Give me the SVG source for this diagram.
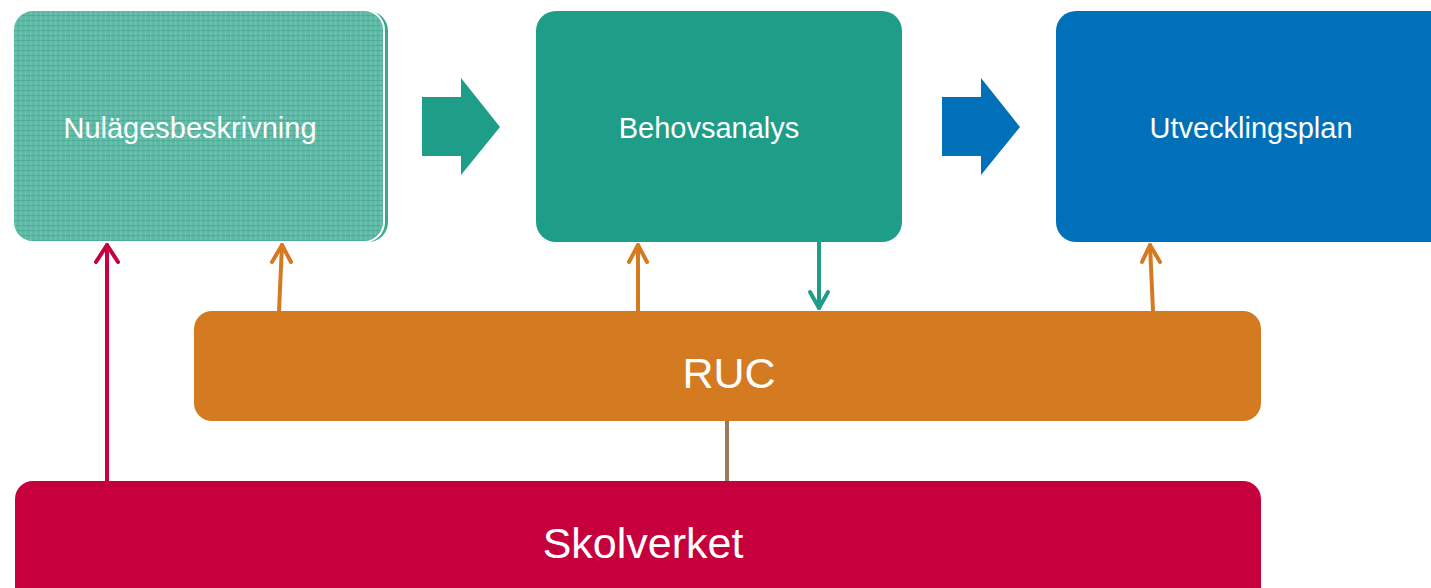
<svg xmlns="http://www.w3.org/2000/svg" width="1431" height="588" viewBox="0 0 1431 588">
<style>
.lbl{font-family:"Liberation Sans",Arial,sans-serif;fill:#ffffff;text-anchor:middle}
.s{font-size:29px}
.b{font-size:43px}
.ln{fill:none;stroke-width:4;stroke-linecap:round;stroke-linejoin:round}
</style>
<defs>
<pattern id="tex" width="5" height="5" patternUnits="userSpaceOnUse">
<rect width="5" height="5" fill="#5db9a5"/>
<rect x="0" y="0" width="1.5" height="5" fill="#7cc9b8" opacity="0.6"/>
<rect x="0" y="0" width="5" height="1.2" fill="#45a892" opacity="0.7"/>
</pattern>
</defs>
<rect width="1431" height="588" fill="#ffffff"/>
<g id="nulage">
<rect x="17" y="11" width="371" height="231" rx="20" fill="#3aa88f"/>
<rect x="13" y="10" width="371" height="232" rx="20" fill="url(#tex)" stroke="#ffffff" stroke-width="2"/>
<text class="lbl s" x="190" y="138">Nulägesbeskrivning</text>
</g>
<g id="arrow1">
<polygon points="422,97 461,97 461,78 500,127 461,175 461,156 422,156" fill="#1e9e88"/>
</g>
<g id="behov">
<rect x="536" y="11" width="366" height="231" rx="20" fill="#1e9e88"/>
<text class="lbl s" x="709" y="138">Behovsanalys</text>
</g>
<g id="arrow2">
<polygon points="942,97 981,97 981,78 1020,127 981,175 981,156 942,156" fill="#0070b8"/>
</g>
<g id="utveckling">
<rect x="1056" y="11" width="400" height="231" rx="20" fill="#0070b8"/>
<text class="lbl s" x="1251" y="138">Utvecklingsplan</text>
</g>
<g id="ruc">
<rect x="194" y="311" width="1067" height="110" rx="18" fill="#d47a20"/>
<text class="lbl b" x="729" y="388">RUC</text>
</g>
<g id="skolverket">
<rect x="15" y="481" width="1246" height="130" rx="18" fill="#c5003c"/>
<text class="lbl b" x="643" y="558">Skolverket</text>
</g>
<g id="connectors">
<line x1="107" y1="481" x2="107" y2="245" class="ln" stroke="#c5003c"/>
<polyline points="96,262 107,245 118,262" class="ln" stroke="#c5003c"/>
<line x1="279" y1="311" x2="282" y2="245" class="ln" stroke="#d47a20"/>
<polyline points="272,262 282,245 291,262" class="ln" stroke="#d47a20"/>
<line x1="638" y1="311" x2="638" y2="245" class="ln" stroke="#d47a20"/>
<polyline points="629,262 638,245 647,262" class="ln" stroke="#d47a20"/>
<line x1="1153" y1="311" x2="1150" y2="245" class="ln" stroke="#d47a20"/>
<polyline points="1142,262 1150,245 1160,262" class="ln" stroke="#d47a20"/>
<line x1="819" y1="242" x2="819" y2="308" class="ln" stroke="#1e9e88"/>
<polyline points="810,292 819,308 828,292" class="ln" stroke="#1e9e88"/>
<line x1="727" y1="421" x2="727" y2="481" stroke="#9a7a5a" stroke-width="4"/>
</g>
</svg>
